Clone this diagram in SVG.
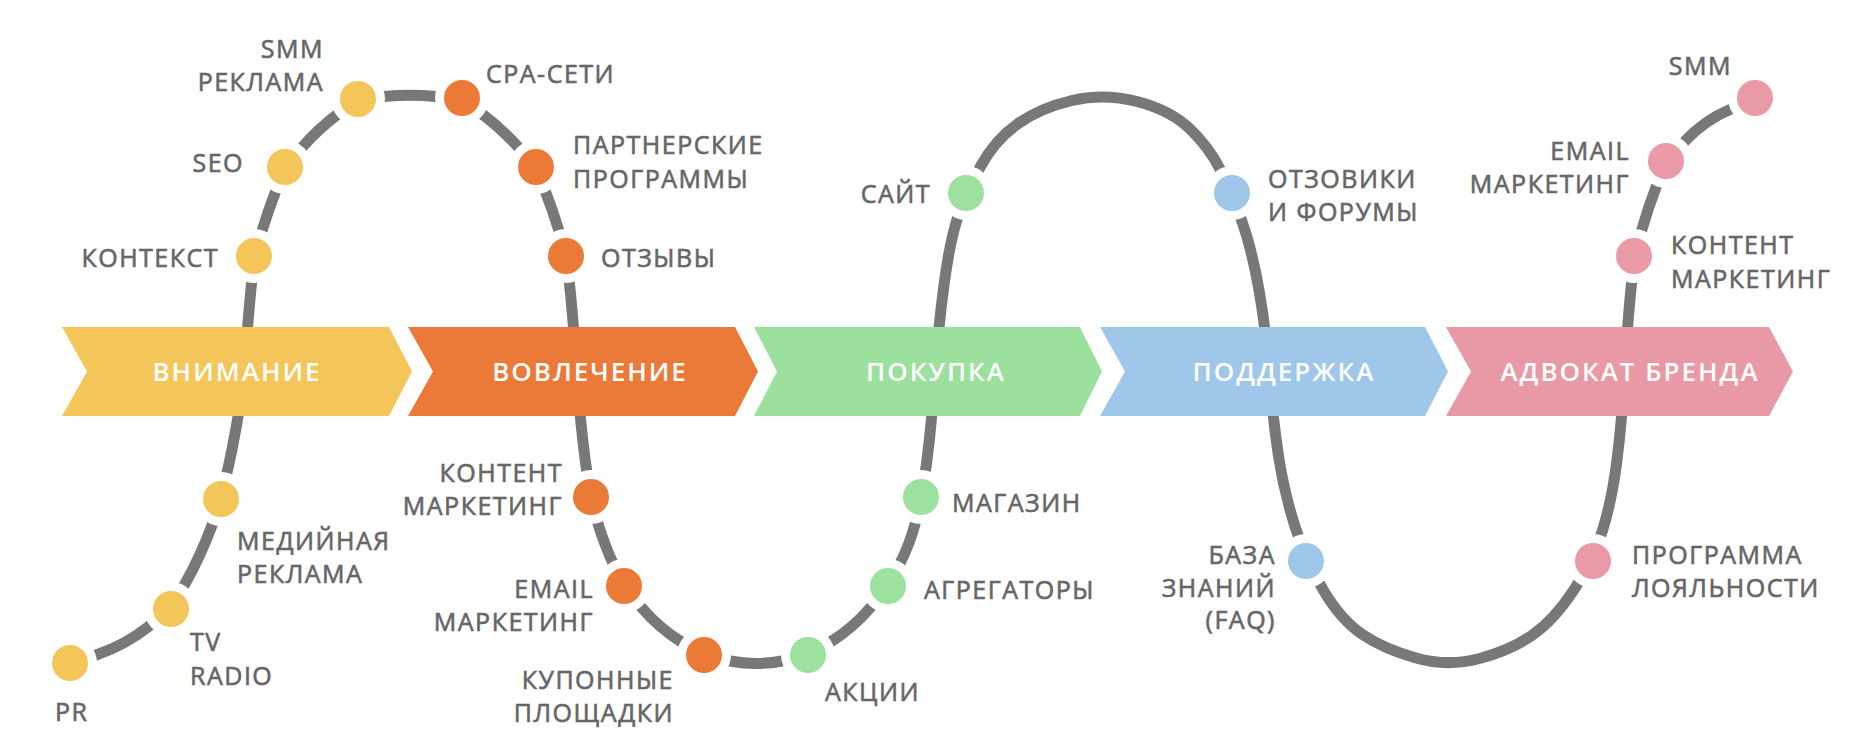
<svg xmlns="http://www.w3.org/2000/svg" width="1854" height="754" viewBox="0 0 1854 754">
<style>
.bg{fill:#ffffff}
.path{fill:none;stroke:#787878;stroke-width:11}
.ring{fill:#ffffff}
.dy{fill:#F4C65A}.do{fill:#EC7A37}.dg{fill:#9CE19E}.db{fill:#9FC7EA}.dp{fill:#EA9AA6}
.lbl{font-family:"Open Sans","Noto Sans",sans-serif;font-size:25px;font-weight:400;fill:#666666;stroke:#666666;stroke-width:0.6px;letter-spacing:1.5px}
.end{text-anchor:end}
.stg{font-family:"Open Sans","Noto Sans",sans-serif;font-size:26px;font-weight:600;fill:#ffffff;letter-spacing:2px;text-anchor:middle}
</style>
<rect class="bg" x="0" y="0" width="1854" height="754"/>
<g id="connectors">
<path class="path" d="M70,664 L97.5,654.5 Q125,645 148,627 Q171,609 185.5,583 Q200,557 211,528 Q222,499 232,449.5 Q242,400 245,360 Q248,320 251,288.5 Q254,257 261,234 Q268,211 276.5,189 Q285,167 301.5,148 Q318,129 338,114 Q358,99 384,96.5 Q410,94 436,96.5 Q462,99 482,114 Q502,129 519,148 Q536,167 544.5,189 Q553,211 560,234 Q567,257 570.5,293.5 Q574,330 577,375 Q580,420 585,458.5 Q590,497 597,520.5 Q604,544 614,565.5 Q624,587 641.5,607.5 Q659,628 681.5,642 Q704,656 730,661 Q756,666 782,661 Q808,656 830.5,642 Q853,628 870.5,607.5 Q888,587 899,565.5 Q910,544 916,520.5 Q922,497 926.5,463.5 Q931,430 934.5,380 Q938,330 944,285 Q950,240 958,216.5 Q966,193 980.5,166.5 Q995,140 1017.5,124 Q1040,108 1072,100.5 Q1104,93 1137,101.5 Q1170,110 1189.5,128.5 Q1209,147 1220.5,170 Q1232,193 1242,221.5 Q1252,250 1259,290 Q1266,330 1269.5,375 Q1273,420 1278.5,456 Q1284,492 1295,526.5 Q1306,561 1323.5,590.5 Q1341,620 1362.5,634.5 Q1384,649 1416,658 Q1448,667 1479.5,658.5 Q1511,650 1532.5,635 Q1554,620 1573.5,590.5 Q1593,561 1602.5,530.5 Q1612,500 1617,460 Q1622,420 1624.5,375 Q1627,330 1630.5,293.5 Q1634,257 1641,232.5 Q1648,208 1657,184.5 Q1666,161 1685.5,140.5 Q1705,120 1730,109.5 L1755,99"/>
</g>
<g id="stage-attention">
<polygon fill="#F4C65A" points="62,327 389,327 412,371.5 389,416 62,416 87,371.5"/>
<text class="stg" x="237" y="381">ВНИМАНИЕ</text>
</g>
<g id="stage-engagement">
<polygon fill="#EB7A38" points="408,327 735,327 758,371.5 735,416 408,416 433,371.5"/>
<text class="stg" x="590" y="381">ВОВЛЕЧЕНИЕ</text>
</g>
<g id="stage-purchase">
<polygon fill="#9BE09C" points="754,327 1080,327 1102,371.5 1080,416 754,416 777,371.5"/>
<text class="stg" x="936" y="381">ПОКУПКА</text>
</g>
<g id="stage-support">
<polygon fill="#9FC7E9" points="1100,327 1425,327 1448,371.5 1425,416 1100,416 1125,371.5"/>
<text class="stg" x="1284" y="381">ПОДДЕРЖКА</text>
</g>
<g id="stage-advocate">
<polygon fill="#E999A5" points="1446,327 1769,327 1793,371.5 1769,416 1446,416 1471,371.5"/>
<text class="stg" x="1630" y="381">АДВОКАТ БРЕНДА</text>
</g>
<g id="node-pr"><circle class="ring" cx="70" cy="663" r="27"/><circle class="dy" cx="70" cy="663" r="18"/><text class="lbl" x="55" y="721">PR</text></g>
<g id="node-tv"><circle class="ring" cx="171" cy="609" r="27"/><circle class="dy" cx="171" cy="609" r="18"/><text class="lbl" x="190" y="651">TV</text><text class="lbl" x="190" y="685">RADIO</text></g>
<g id="node-media"><circle class="ring" cx="221" cy="499" r="27"/><circle class="dy" cx="221" cy="499" r="18"/><text class="lbl" x="237" y="550">МЕДИЙНАЯ</text><text class="lbl" x="237" y="583">РЕКЛАМА</text></g>
<g id="node-context"><circle class="ring" cx="254" cy="256" r="27"/><circle class="dy" cx="254" cy="256" r="18"/><text class="lbl end" x="219" y="267">КОНТЕКСТ</text></g>
<g id="node-seo"><circle class="ring" cx="285" cy="167" r="27"/><circle class="dy" cx="285" cy="167" r="18"/><text class="lbl end" x="244" y="172">SEO</text></g>
<g id="node-smm-ads"><circle class="ring" cx="358" cy="99" r="27"/><circle class="dy" cx="358" cy="99" r="18"/><text class="lbl end" x="324" y="58">SMM</text><text class="lbl end" x="324" y="91">РЕКЛАМА</text></g>
<g id="node-cpa"><circle class="ring" cx="462" cy="98" r="27"/><circle class="do" cx="462" cy="98" r="18"/><text class="lbl" x="486" y="83">СРА-СЕТИ</text></g>
<g id="node-partner"><circle class="ring" cx="536" cy="167" r="27"/><circle class="do" cx="536" cy="167" r="18"/><text class="lbl" x="573" y="154">ПАРТНЕРСКИЕ</text><text class="lbl" x="573" y="188">ПРОГРАММЫ</text></g>
<g id="node-reviews"><circle class="ring" cx="566" cy="256" r="27"/><circle class="do" cx="566" cy="256" r="18"/><text class="lbl" x="601" y="267">ОТЗЫВЫ</text></g>
<g id="node-content-o"><circle class="ring" cx="591" cy="497" r="27"/><circle class="do" cx="591" cy="497" r="18"/><text class="lbl end" x="563" y="482">КОНТЕНТ</text><text class="lbl end" x="563" y="515">МАРКЕТИНГ</text></g>
<g id="node-email-o"><circle class="ring" cx="624" cy="586" r="27"/><circle class="do" cx="624" cy="586" r="18"/><text class="lbl end" x="594" y="598">EMAIL</text><text class="lbl end" x="594" y="631">МАРКЕТИНГ</text></g>
<g id="node-coupons"><circle class="ring" cx="704" cy="655" r="27"/><circle class="do" cx="704" cy="655" r="18"/><text class="lbl end" x="674" y="689">КУПОННЫЕ</text><text class="lbl end" x="674" y="722">ПЛОЩАДКИ</text></g>
<g id="node-promo"><circle class="ring" cx="808" cy="655" r="27"/><circle class="dg" cx="808" cy="655" r="18"/><text class="lbl" x="825" y="701">АКЦИИ</text></g>
<g id="node-aggregators"><circle class="ring" cx="888" cy="586" r="27"/><circle class="dg" cx="888" cy="586" r="18"/><text class="lbl" x="924" y="599">АГРЕГАТОРЫ</text></g>
<g id="node-store"><circle class="ring" cx="921" cy="497" r="27"/><circle class="dg" cx="921" cy="497" r="18"/><text class="lbl" x="952" y="512">МАГАЗИН</text></g>
<g id="node-site"><circle class="ring" cx="966" cy="193" r="27"/><circle class="dg" cx="966" cy="193" r="18"/><text class="lbl end" x="931" y="203">САЙТ</text></g>
<g id="node-forums"><circle class="ring" cx="1232" cy="193" r="27"/><circle class="db" cx="1232" cy="193" r="18"/><text class="lbl" x="1268" y="188">ОТЗОВИКИ</text><text class="lbl" x="1268" y="221">И ФОРУМЫ</text></g>
<g id="node-faq"><circle class="ring" cx="1306" cy="561" r="27"/><circle class="db" cx="1306" cy="561" r="18"/><text class="lbl end" x="1276" y="564">БАЗА</text><text class="lbl end" x="1276" y="597">ЗНАНИЙ</text><text class="lbl end" x="1276" y="629">(FAQ)</text></g>
<g id="node-loyalty"><circle class="ring" cx="1593" cy="561" r="27"/><circle class="dp" cx="1593" cy="561" r="18"/><text class="lbl" x="1632" y="564">ПРОГРАММА</text><text class="lbl" x="1632" y="597">ЛОЯЛЬНОСТИ</text></g>
<g id="node-content-p"><circle class="ring" cx="1634" cy="256" r="27"/><circle class="dp" cx="1634" cy="256" r="18"/><text class="lbl" x="1671" y="254">КОНТЕНТ</text><text class="lbl" x="1671" y="288">МАРКЕТИНГ</text></g>
<g id="node-email-p"><circle class="ring" cx="1666" cy="161" r="27"/><circle class="dp" cx="1666" cy="161" r="18"/><text class="lbl end" x="1630" y="160">EMAIL</text><text class="lbl end" x="1630" y="193">МАРКЕТИНГ</text></g>
<g id="node-smm"><circle class="ring" cx="1755" cy="98" r="27"/><circle class="dp" cx="1755" cy="98" r="18"/><text class="lbl end" x="1732" y="75">SMM</text></g>
</svg>
